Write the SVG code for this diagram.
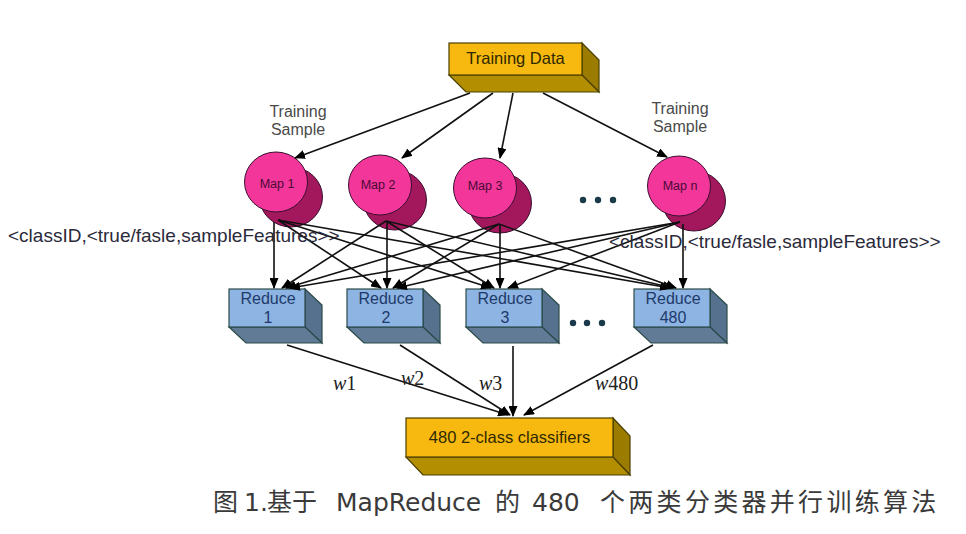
<svg xmlns="http://www.w3.org/2000/svg" width="966" height="534" viewBox="0 0 966 534">
<defs>
<marker id="ah" markerWidth="11" markerHeight="9" refX="10" refY="4.5" orient="auto" markerUnits="userSpaceOnUse"><path d="M0,0 L11,4.5 L0,9 Z" fill="#000"/></marker>
</defs>
<style>
.conn line{stroke:#111;stroke-width:1.6;marker-end:url(#ah)}
.yf{fill:#f7b90f;stroke:#4a4000;stroke-width:1.2}
.yr{fill:#9c7c00;stroke:#4a4000;stroke-width:1.2}
.yb{fill:#b38e00;stroke:#4a4000;stroke-width:1.2}
.bf{fill:#8db4e2;stroke:#2b4a4a;stroke-width:1.2}
.br{fill:#56718e;stroke:#2b4a4a;stroke-width:1.2}
.bb{fill:#617b96;stroke:#2b4a4a;stroke-width:1.2}
.mf{fill:#f2369a;stroke:#3a1030;stroke-width:1}
.mb{fill:#a3175c;stroke:#3a1030;stroke-width:1}
.t{font-family:"Liberation Sans",Arial,sans-serif;text-anchor:middle}
.box{font-size:16.5px;fill:#2e2800}
.red{font-size:16px;fill:#1f3a6a}
.map{font-size:12.5px;fill:#4a0a35}
.lab{font-family:"Liberation Sans",Arial,sans-serif;font-size:19px;fill:#2a2a3a}
.samp{font-size:16px;fill:#4a4a4a}
.w{font-family:"Liberation Serif","Times New Roman",serif;font-size:20px;fill:#222}
.dot{fill:#1a3a4a}
</style>
<rect width="966" height="534" fill="#fff"/>

<g id="training-data">
<polygon class="yr" points="582,43 599,60 599,92 582,75"/>
<polygon class="yb" points="449,75 582,75 599,92 466,92"/>
<rect class="yf" x="449" y="43" width="133" height="32"/>
<text class="t box" x="515.5" y="64">Training Data</text>
</g>

<g id="map1">
<ellipse class="mb" cx="291" cy="197" rx="31.5" ry="30"/>
<ellipse class="mf" cx="276" cy="182" rx="31.5" ry="30"/>
<text class="t map" x="277" y="188">Map 1</text>
</g>
<g id="map2">
<ellipse class="mb" cx="395" cy="200" rx="31.5" ry="30"/>
<ellipse class="mf" cx="380" cy="185" rx="31.5" ry="30"/>
<text class="t map" x="378" y="189">Map 2</text>
</g>
<g id="map3">
<ellipse class="mb" cx="500" cy="203" rx="31.5" ry="30"/>
<ellipse class="mf" cx="485" cy="188" rx="31.5" ry="30"/>
<text class="t map" x="485" y="190">Map 3</text>
</g>
<g id="mapn">
<ellipse class="mb" cx="694" cy="201" rx="31.5" ry="30"/>
<ellipse class="mf" cx="679" cy="186" rx="31.5" ry="30"/>
<text class="t map" x="680" y="190">Map n</text>
</g>
<g id="map-dots">
<circle class="dot" cx="583" cy="200" r="3.2"/>
<circle class="dot" cx="598" cy="200" r="3.2"/>
<circle class="dot" cx="613" cy="200" r="3.2"/>
</g>

<g id="reduce1">
<polygon class="br" points="305,289 322,305 322,343 305,327"/>
<polygon class="bb" points="229,327 305,327 322,343 246,343"/>
<rect class="bf" x="229" y="289" width="76" height="38"/>
<text class="t red" x="268" y="304">Reduce</text>
<text class="t red" x="268" y="323">1</text>
</g>
<g id="reduce2">
<polygon class="br" points="423,289 440,305 440,343 423,327"/>
<polygon class="bb" points="347,327 423,327 440,343 364,343"/>
<rect class="bf" x="347" y="289" width="76" height="38"/>
<text class="t red" x="386" y="304">Reduce</text>
<text class="t red" x="386" y="323">2</text>
</g>
<g id="reduce3">
<polygon class="br" points="542,289 559,305 559,343 542,327"/>
<polygon class="bb" points="466,327 542,327 559,343 483,343"/>
<rect class="bf" x="466" y="289" width="76" height="38"/>
<text class="t red" x="505" y="304">Reduce</text>
<text class="t red" x="505" y="323">3</text>
</g>
<g id="reduce480">
<polygon class="br" points="710,289 727,305 727,343 710,327"/>
<polygon class="bb" points="634,327 710,327 727,343 651,343"/>
<rect class="bf" x="634" y="289" width="76" height="38"/>
<text class="t red" x="673" y="304">Reduce</text>
<text class="t red" x="673" y="323">480</text>
</g>
<g id="reduce-dots">
<circle class="dot" cx="573" cy="323" r="3.2"/>
<circle class="dot" cx="587" cy="323" r="3.2"/>
<circle class="dot" cx="602" cy="323" r="3.2"/>
</g>

<g id="classifiers">
<polygon class="yr" points="613,418 630,436 630,475 613,457"/>
<polygon class="yb" points="406,457 613,457 630,475 423,475"/>
<rect class="yf" x="406" y="418" width="207" height="39"/>
<text class="t box" x="509.5" y="443">480 2-class classifiers</text>
</g>

<g id="connectors" class="conn">
<line x1="470" y1="93" x2="295" y2="158"/>
<line x1="493" y1="93" x2="402" y2="158"/>
<line x1="513" y1="93" x2="500" y2="158"/>
<line x1="543" y1="93" x2="667" y2="157"/>

<line x1="274" y1="222" x2="274" y2="288"/>
<line x1="278" y1="220" x2="381" y2="288"/>
<line x1="278" y1="220" x2="491" y2="288"/>
<line x1="278" y1="220" x2="670" y2="288"/>

<line x1="387" y1="222" x2="387" y2="288"/>
<line x1="386" y1="221" x2="282" y2="288"/>
<line x1="386" y1="221" x2="494" y2="288"/>
<line x1="386" y1="221" x2="673" y2="288"/>

<line x1="500" y1="225" x2="500" y2="288"/>
<line x1="499" y1="224" x2="286" y2="288"/>
<line x1="499" y1="224" x2="393" y2="288"/>
<line x1="499" y1="224" x2="676" y2="288"/>

<line x1="683" y1="224" x2="683" y2="288"/>
<line x1="680" y1="222" x2="290" y2="288"/>
<line x1="680" y1="222" x2="397" y2="288"/>
<line x1="680" y1="222" x2="508" y2="288"/>

<line x1="287" y1="345" x2="508" y2="415"/>
<line x1="400" y1="345" x2="510" y2="415"/>
<line x1="513" y1="346" x2="513" y2="416"/>
<line x1="653" y1="345" x2="524" y2="415"/>
</g>

<g id="labels">
<text class="t samp" x="298" y="117">Training</text>
<text class="t samp" x="298" y="135">Sample</text>
<text class="t samp" x="680" y="114">Training</text>
<text class="t samp" x="680" y="132">Sample</text>
<text class="lab" x="8" y="242">&lt;classID,&lt;true/fasle,sampleFeatures&gt;&gt;</text>
<text class="lab" x="609" y="248">&lt;classID,&lt;true/fasle,sampleFeatures&gt;&gt;</text>
<text class="w" x="333" y="390"><tspan font-style="italic">w</tspan>1</text>
<text class="w" x="401" y="385"><tspan font-style="italic">w</tspan>2</text>
<text class="w" x="479" y="390"><tspan font-style="italic">w</tspan>3</text>
<text class="w" x="595" y="390"><tspan font-style="italic">w</tspan>480</text>
</g>

<text id="caption" y="511" font-family="'DejaVu Sans','Noto Sans CJK SC',sans-serif" font-size="25" fill="#3a3a3a"><tspan x="213">图</tspan><tspan x="244">1.</tspan><tspan x="267">基于</tspan><tspan x="336">MapReduce</tspan><tspan x="495">的</tspan><tspan x="532">480</tspan><tspan x="600" letter-spacing="3.3">个两类分类器并行训练算法</tspan></text>
</svg>
